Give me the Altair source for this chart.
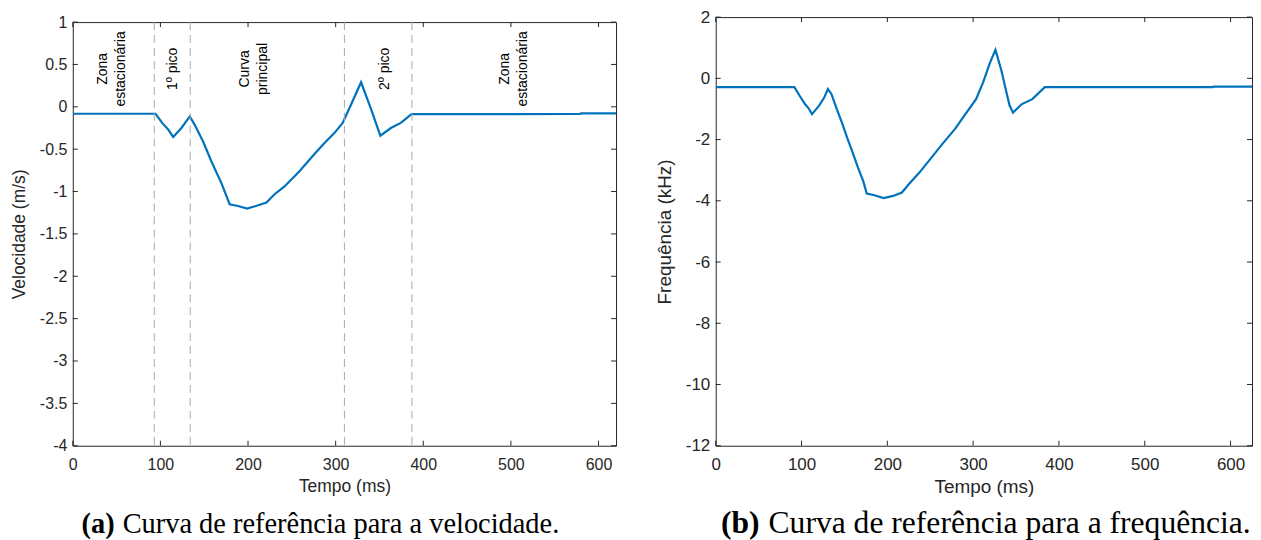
import altair as alt
import pandas as pd

# ---------------- data ----------------
vel_t = [0, 94.5, 102, 109, 114.6, 124, 133.5, 139, 148.7, 158, 169.6, 179, 188.5, 199, 209,
         221, 230, 241.6, 258.7, 275.8, 287, 298.5, 308, 317.5, 329, 340, 351, 363, 374.4,
         386.6, 579, 580, 620]
vel_v = [-0.082, -0.082, -0.19, -0.27, -0.356, -0.25, -0.114, -0.21, -0.41, -0.64, -0.90,
         -1.15, -1.17, -1.20, -1.17, -1.13, -1.035, -0.94, -0.76, -0.557, -0.43, -0.31, -0.19,
         0.024, 0.29, -0.015, -0.34, -0.25, -0.19, -0.086, -0.085, -0.078, -0.078]

freq_t = [0, 91.7, 97.8, 104, 108, 112.2, 120.5, 126.6, 130.7, 134.8, 141, 147, 153, 159.5,
          165.7, 171.8, 176, 184, 195.7, 206.8, 217, 225, 237.6, 250, 264, 278.7, 291, 303.4,
          311.6, 319.8, 326, 333, 338.3, 342.5, 346.5, 356.8, 369, 383.5, 579, 580, 625]
freq_f = [-0.29, -0.29, -0.57, -0.84, -0.97, -1.17, -0.89, -0.62, -0.35, -0.51, -1.0, -1.44,
          -1.93, -2.42, -2.91, -3.35, -3.76, -3.81, -3.91, -3.84, -3.73, -3.46, -3.07, -2.64,
          -2.15, -1.66, -1.17, -0.68, -0.13, 0.52, 0.93, 0.25, -0.40, -0.89, -1.12, -0.84,
          -0.68, -0.29, -0.29, -0.27, -0.27]

boundary_t = [93, 134, 310, 387]
region_t = [34, 114, 197, 356, 493]
region_labels = ["Zona\nestacionária", "1º pico", "Curva\nprincipal", "2º pico", "Zona\nestacionária"]

x_ticks = [0, 100, 200, 300, 400, 500, 600]
vel_ticks = [1, 0.5, 0, -0.5, -1, -1.5, -2, -2.5, -3, -3.5, -4]
freq_ticks = [2, 0, -2, -4, -6, -8, -10, -12]

caption_a = ["(a)", "Curva de referência para a velocidade."]
caption_b = ["(b)", "Curva de referência para a frequência."]

# ---------------- style ----------------
SANS = "Liberation Sans"
SERIF = "Liberation Serif"
AX = "#262626"
LINE = "#0072BD"
TICK = 5


def panel(t, y, xdom, ydom, yticks, ytitle, W, H, caption, cap_x, cap_gap, cap_size,
          lab_size, title_size, y_title_pad, spacer_y, boundaries=None, regions=None):
    xs = alt.Scale(domain=xdom, nice=False, zero=False)
    ys = alt.Scale(domain=ydom, nice=False, zero=False)
    xax = alt.Axis(values=x_ticks, ticks=False, domain=False, grid=False, title="Tempo (ms)",
                   labelFontSize=lab_size, titleFontSize=title_size, labelPadding=11,
                   titlePadding=5, labelFont=SANS, titleFont=SANS, titleFontWeight="normal",
                   labelColor=AX, titleColor=AX, labelFlush=False, labelOverlap=False)
    yax = alt.Axis(values=yticks, ticks=False, domain=False, grid=False, title=ytitle,
                   labelFontSize=lab_size, titleFontSize=title_size, labelPadding=6,
                   titlePadding=y_title_pad, labelFont=SANS, titleFont=SANS,
                   titleFontWeight="normal", labelColor=AX, titleColor=AX,
                   labelFlush=False, labelOverlap=False,
                   labelExpr="toString(datum.value)")

    def X(f):
        return alt.X(f, type="quantitative", scale=xs, axis=xax)

    def Y(f):
        return alt.Y(f, type="quantitative", scale=ys, axis=yax)

    df = pd.DataFrame({"t": t, "v": y})
    layers = []
    layers.append(alt.Chart(df).mark_line(color=LINE, strokeWidth=2.2, clip=True).encode(
        x=X("t"), y=Y("v")))

    if boundaries is not None:
        bdf = pd.DataFrame({"t": boundaries})
        layers.append(alt.Chart(bdf).mark_rule(color="#a8a8a8", strokeWidth=1,
                                               strokeDash=[8, 5]).encode(
            x=X("t"), y=alt.value(0), y2=alt.value(H)))
    if regions is not None:
        rdf = pd.DataFrame({"t": regions[0], "lab": regions[1]})
        layers.append(alt.Chart(rdf).mark_text(angle=270, align="center", baseline="middle",
                                               lineBreak="\n", lineHeight=18, fontSize=14,
                                               font=SANS, color="#000000").encode(
            x=X("t"), y=alt.value(47), text="lab:N"))

    # inward ticks on all four sides (MATLAB box style)
    xt = pd.DataFrame({"t": x_ticks})
    yt = pd.DataFrame({"v": yticks})
    layers.append(alt.Chart(xt).mark_rule(color=AX, strokeWidth=1).encode(
        x=X("t"), y=alt.value(H), y2=alt.value(H - TICK)))
    layers.append(alt.Chart(xt).mark_rule(color=AX, strokeWidth=1).encode(
        x=X("t"), y=alt.value(0), y2=alt.value(TICK)))
    layers.append(alt.Chart(yt).mark_rule(color=AX, strokeWidth=1).encode(
        y=Y("v"), x=alt.value(0), x2=alt.value(TICK)))
    layers.append(alt.Chart(yt).mark_rule(color=AX, strokeWidth=1).encode(
        y=Y("v"), x=alt.value(W), x2=alt.value(W - TICK)))

    # caption: bold label + normal text
    cb = pd.DataFrame({"c": [caption[0]]})
    cr = pd.DataFrame({"c": [caption[1]]})
    layers.append(alt.Chart(cb).mark_text(font=SERIF, fontSize=cap_size, fontWeight="bold",
                                          align="right", baseline="alphabetic",
                                          color="#000000").encode(
        text="c:N", x=alt.value(cap_x), y=alt.value(H + 88)))
    layers.append(alt.Chart(cr).mark_text(font=SERIF, fontSize=cap_size, align="left",
                                          baseline="alphabetic", color="#000000").encode(
        text="c:N", x=alt.value(cap_x + cap_gap), y=alt.value(H + 88)))

    # invisible spacer that fixes the panel's lower extent (for vertical alignment)
    sp = pd.DataFrame({"c": ["."]})
    layers.append(alt.Chart(sp).mark_text(fontSize=10, baseline="top", opacity=0).encode(
        text="c:N", x=alt.value(W / 2), y=alt.value(H + spacer_y)))

    return alt.layer(*layers).properties(width=W, height=H)


left = panel(vel_t, vel_v, [0, 620], [-4, 1], vel_ticks, "Velocidade (m/s)", 545, 425,
             caption_a, 42, 8, 28.5, 16, 17.5, 11, 96,
             boundaries=boundary_t, regions=(region_t, region_labels))
right = panel(freq_t, freq_f, [0, 625], [-12, 2], freq_ticks, "Frequência (kHz)", 538, 430,
              caption_b, 44, 9, 31.7, 17, 19, 11, 101)

chart = alt.hconcat(left, right, spacing=37, center=True).properties(
    padding={"left": 1, "top": -2, "right": 0, "bottom": 0}
).configure_view(stroke=AX, strokeWidth=1)

chart.save("out.html", embed_options={"renderer": "svg", "actions": False})
